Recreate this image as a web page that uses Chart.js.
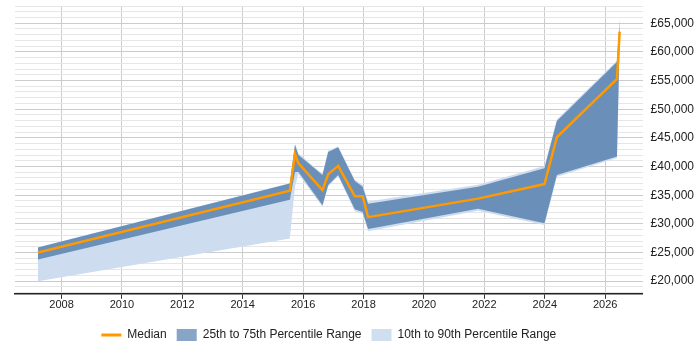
<!DOCTYPE html>
<html>
<head>
<meta charset="utf-8">
<script src="https://cdn.jsdelivr.net/npm/chart.js@4/dist/chart.umd.min.js"></script>
<style>
  html, body { margin: 0; padding: 0; background: #fff; }
  #wrap { width: 700px; height: 350px; }
</style>
</head>
<body>
<div id="wrap"><canvas id="salaryChart"></canvas></div>
<script>
// values (x in decimal years)
const years   = [2007.22, 2015.56, 2015.73, 2015.84, 2016.64, 2016.83, 2017.16, 2017.71, 2017.97, 2018.15, 2021.79, 2023.99, 2024.40, 2026.39, 2026.48];
const median  = [25000, 35760, 42200, 40580, 35880, 38640, 40120, 34820, 34820, 31170, 34400, 36940, 45110, 55290, 63500];
const p25     = [23800, 34220, 39000, 39100, 33230, 36760, 38530, 32530, 32050, 29110, 32640, 30110, 38530, 41760, 62000];
const p75     = [25880, 37050, 43800, 42050, 38530, 42520, 43350, 37470, 36470, 33520, 36470, 39700, 47930, 58220, 65500];
const p10     = [20000, 27460, 36500, 38700, 33000, 36500, 38300, 32200, 31700, 28700, 32300, 29800, 38200, 41500, 61000];
const p90     = [25900, 37100, 44000, 42300, 38700, 42800, 43500, 37700, 36800, 33900, 36800, 40100, 48200, 58500, 66000];
const yearTicks = [2008, 2010, 2012, 2014, 2016, 2018, 2020, 2022, 2024, 2026];
const salaryTicks = [];
for (let v = 18000; v <= 68000; v += 1000) salaryTicks.push(v);

const pts = arr => arr.map((v, i) => ({ x: years[i], y: v }));
const font = 'Liberation Sans, Arial, sans-serif';

new Chart(document.getElementById('salaryChart').getContext('2d'), {
    type: 'line',
    data: {
        datasets: [
            { label: 'Median', data: pts(median), borderColor: '#ff9900', borderWidth: 2.5,
              pointRadius: 0, fill: false, order: 0, tension: 0 },
            { label: '25th to 75th Percentile Range', data: pts(p75), borderWidth: 0,
              backgroundColor: '#6a8fb9', pointRadius: 0, fill: '+1', order: 1 },
            { label: 'p25', data: pts(p25), borderWidth: 0, pointRadius: 0, fill: false, order: 1 },
            { label: '10th to 90th Percentile Range', data: pts(p90), borderWidth: 0,
              backgroundColor: '#cddcee', pointRadius: 0, fill: '+1', order: 2 },
            { label: 'p10', data: pts(p10), borderWidth: 0, pointRadius: 0, fill: false, order: 2 }
        ]
    },
    options: {
        responsive: true,
        maintainAspectRatio: false,
        animation: false,
        layout: { padding: { left: 15, right: -2, top: 6, bottom: -1 } },
        plugins: {
            tooltip: { enabled: false },
            legend: {
                position: 'bottom',
                fullSize: false,   // centre the legend under the plot area
                labels: {
                    font: { family: font, size: 12 },
                    color: '#222',
                    usePointStyle: true,
                    pointStyleWidth: 20,
                    boxHeight: 12,
                    padding: 10,
                    filter: item => item.text.indexOf('p') !== 0,
                    generateLabels: chart => {
                        const items = Chart.defaults.plugins.legend.labels.generateLabels(chart);
                        items.forEach(it => {
                            if (it.text === 'Median') {
                                it.pointStyle = 'line'; it.lineWidth = 3; it.strokeStyle = '#ff9900';
                            } else {
                                it.pointStyle = 'rect'; it.lineWidth = 0;
                                it.fillStyle = it.text.startsWith('25th') ? '#87a5c6' : '#d0dff0';
                                it.strokeStyle = it.fillStyle;
                            }
                        });
                        return items;
                    }
                }
            }
        },
        scales: {
            x: {
                type: 'linear',
                min: 2006.46,
                max: 2027.24,
                afterBuildTicks: scale => { scale.ticks = yearTicks.map(v => ({ value: v })); },
                afterFit: scale => { scale.height += 7; },
                ticks: { font: { family: font, size: 11 }, color: '#222', padding: 0,
                         callback: v => String(v) },
                grid: { color: '#cccccc', tickColor: '#333', tickLength: 5 },
                border: { color: '#222', width: 1.5 }
            },
            y: {
                position: 'right',
                min: 17800,
                max: 68000,
                afterBuildTicks: scale => { scale.ticks = salaryTicks.map(v => ({ value: v })); },
                afterFit: scale => { scale.paddingTop = 0; scale.paddingBottom = 0; },
                ticks: {
                    autoSkip: false,
                    font: { family: font, size: 12 }, color: '#222', padding: 8,
                    callback: v => v % 5000 === 0 ? '£' + v.toLocaleString('en-GB') : ''
                },
                grid: {
                    drawTicks: false,
                    color: c => (c.tick && c.tick.value % 5000 === 0) ? '#cccccc' : '#e6e6e6'
                },
                border: { display: false }
            }
        }
    }
});
</script>
</body>
</html>
